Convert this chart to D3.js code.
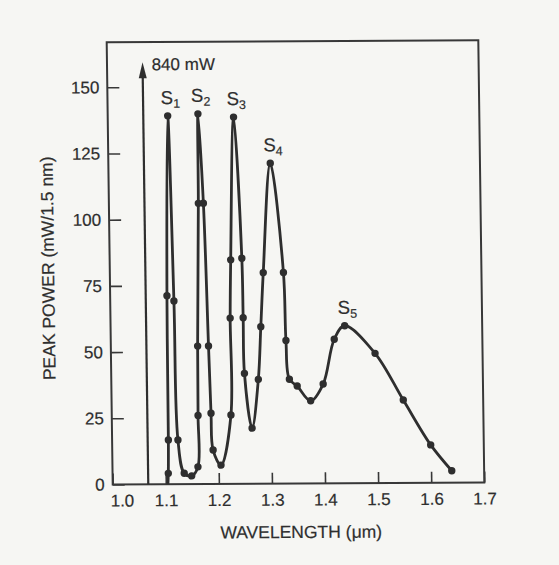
<!DOCTYPE html>
<html>
<head>
<meta charset="utf-8">
<script src="https://cdn.jsdelivr.net/npm/d3@7"></script>
<style>
  body { margin: 0; background: #f6f6f3; }
  svg { display: block; font-family: "Liberation Sans", Arial, sans-serif; }
  svg text { stroke: #2e2e2e; stroke-width: 0.2px; }
</style>
</head>
<body>
<svg id="chart" width="559" height="565"></svg>
<script>
// measured points (wavelength in um, peak power in mW / 1.5 nm)
const wavelength = [1.105, 1.106, 1.107, 1.113, 1.120, 1.124, 1.135, 1.149, 1.161,
  1.1625, 1.1635, 1.1685, 1.170, 1.178, 1.184, 1.187, 1.190, 1.2045,
  1.2245, 1.2255, 1.228, 1.237, 1.249, 1.250, 1.251, 1.264,
  1.277, 1.283, 1.289, 1.305, 1.327, 1.330, 1.3355, 1.350, 1.375,
  1.399, 1.421, 1.441, 1.4975, 1.5495, 1.600, 1.639];
const power = [4.1, 16.7, 71.2, 139.1, 69.2, 16.7, 4.1, 3.1, 6.5,
  25.9, 52.1, 106, 139.8, 106, 52.1, 26.7, 12.8, 7.1,
  26.0, 62.6, 84.6, 138.5, 85.2, 62.7, 41.7, 21.0,
  39.4, 59.3, 79.7, 121.0, 79.7, 54.0, 39.4, 36.8, 31.2,
  37.5, 54.4, 59.5, 49.0, 31.3, 14.3, 4.5];
// curve leaves the axis here (no dot)
const footWavelength = 1.104;

// Stokes orders
const peakIndex = [3, 12, 21, 29, 37];
const peakNames = ["1", "2", "3", "4", "5"];

// pump line, off scale
const pumpWavelength = 1.067;
const pumpTop = 159.4;
const pumpLabel = "840 mW";

const xTicks = [1.0, 1.1, 1.2, 1.3, 1.4, 1.5, 1.6, 1.7];
const yTicks = [0, 25, 50, 75, 100, 125, 150];

const plotL = 112.7, plotT = 42.3, plotR = 484.3, plotB = 484.5;
const ink = "#2e2e2e";

const svg = d3.select("#chart");

// the scan is slightly skewed, keep that
const g = svg.append("g")
  .attr("transform", "matrix(1,-0.0054,0.0136,1,-6.58,0.61)");

const x = d3.scaleLinear().domain([1.0, 1.7]).range([plotL, plotR]);
const y = d3.scaleLinear().domain([0, 167]).range([plotB, plotT]);

g.append("rect")
  .attr("x", plotL).attr("y", plotT)
  .attr("width", plotR - plotL).attr("height", plotB - plotT)
  .attr("fill", "none").attr("stroke", "#383838").attr("stroke-width", 2);

const xAxis = g.append("g")
  .attr("transform", `translate(0,${plotB})`)
  .call(d3.axisBottom(x).tickValues(xTicks).tickFormat(d3.format(".1f"))
    .tickSize(-11).tickSizeOuter(0).tickPadding(10));

const yAxis = g.append("g")
  .attr("transform", `translate(${plotL},0)`)
  .call(d3.axisLeft(y).tickValues(yTicks).tickSize(-12).tickSizeOuter(0).tickPadding(8));

[xAxis, yAxis].forEach(a => {
  a.select(".domain").remove();
  a.selectAll("line").attr("stroke", "#383838").attr("stroke-width", 1.6);
  a.selectAll("text").attr("fill", ink).attr("font-size", 17)
    .attr("font-family", "'Liberation Sans', Arial, sans-serif");
});
xAxis.selectAll("text").filter(d => d === 1.0).attr("dx", 9);

// axis titles
g.append("text")
  .attr("x", (plotL + plotR) / 2 + 2).attr("y", 539)
  .attr("text-anchor", "middle").attr("font-size", 17.5).attr("fill", ink)
  .text("WAVELENGTH (\u03bcm)");

g.append("text")
  .attr("transform", "translate(57,268) rotate(-90)")
  .attr("text-anchor", "middle").attr("font-size", 17.5).attr("fill", ink)
  .text("PEAK POWER (mW/1.5 nm)");

// pump arrow
const px = x(pumpWavelength);
g.append("line")
  .attr("x1", px).attr("x2", px)
  .attr("y1", y(0)).attr("y2", y(pumpTop) + 10)
  .attr("stroke", ink).attr("stroke-width", 2.2);
g.append("path")
  .attr("d", `M${px},${y(pumpTop)} L${px - 4},${y(pumpTop) + 16} L${px + 4},${y(pumpTop) + 16} Z`)
  .attr("fill", ink);
g.append("text")
  .attr("x", px + 9).attr("y", y(pumpTop) + 8)
  .attr("font-size", 17).attr("fill", ink)
  .text(pumpLabel);

// curve
const pts = wavelength.map((w, i) => [w, power[i]]);
const line = d3.line()
  .x(d => x(d[0])).y(d => y(d[1]))
  .curve(d3.curveCatmullRom.alpha(0.5));

g.append("path")
  .datum([[footWavelength, 0]].concat(pts))
  .attr("d", line)
  .attr("fill", "none").attr("stroke", ink).attr("stroke-width", 2.8)
  .attr("stroke-linejoin", "round");

g.selectAll("circle.pt")
  .data(pts)
  .join("circle")
  .attr("class", "pt")
  .attr("cx", d => x(d[0])).attr("cy", d => y(d[1]))
  .attr("r", 3.7).attr("fill", ink);

// S labels
peakIndex.forEach((k, i) => {
  const t = g.append("text")
    .attr("x", x(wavelength[k]) + 3).attr("y", y(power[k]) - 12)
    .attr("text-anchor", "middle").attr("fill", ink);
  t.append("tspan").attr("font-size", 18.5).text("S");
  t.append("tspan").attr("font-size", 12.5).attr("dy", 4).text(peakNames[i]);
});
</script>
</body>
</html>
